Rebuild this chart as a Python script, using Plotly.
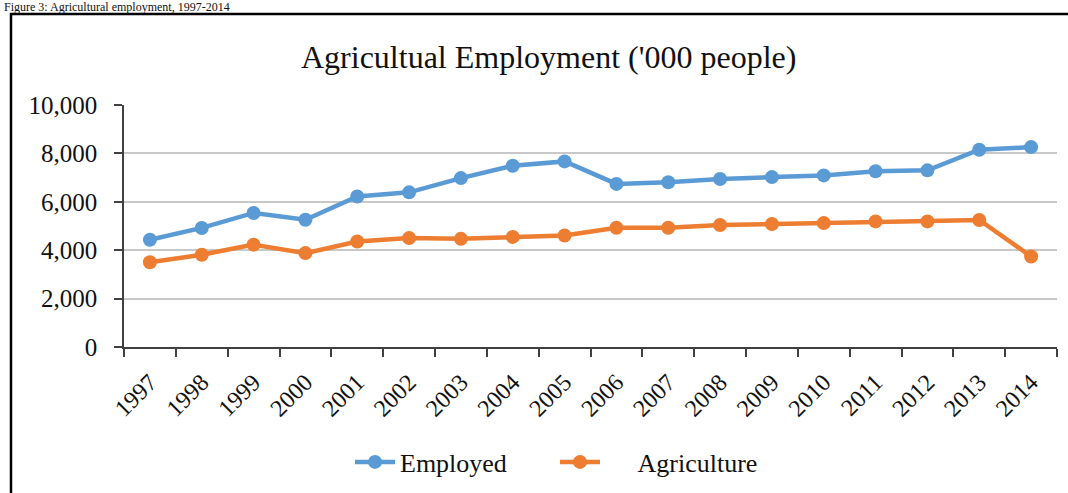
import plotly.graph_objects as go

# Annual data, thousands of people
years = [str(y) for y in range(1997, 2015)]
employed = [4430, 4920, 5540, 5260, 6220, 6390, 6980, 7490, 7670,
            6740, 6810, 6940, 7020, 7090, 7260, 7300, 8150, 8260]
agriculture = [3500, 3810, 4230, 3880, 4360, 4500, 4470, 4550, 4610,
               4930, 4930, 5040, 5080, 5120, 5190, 5190, 5250, 3740]

y_ticks = [0, 2000, 4000, 6000, 8000, 10000]
y_tick_text = ["0", "2,000", "4,000", "6,000", "8,000", "10,000"]

FONT = "Liberation Serif, Times New Roman, serif"
BLUE = "#5B9BD5"
ORANGE = "#ED7D31"

W, H = 1068, 493
L, R, T, B = 124, 11, 105, 146
pw, ph = W - L - R, H - T - B


def px(x):
    return (x - L) / pw


def py(y):
    return (H - B - y) / ph


fig = go.Figure()
fig.add_trace(go.Scatter(
    x=years, y=employed, name="Employed", mode="lines+markers",
    line=dict(color=BLUE, width=4.5), marker=dict(color=BLUE, size=14),
))
fig.add_trace(go.Scatter(
    x=years, y=agriculture, name="\u00a0\u00a0\u00a0\u00a0\u00a0Agriculture",
    mode="lines+markers",
    line=dict(color=ORANGE, width=4.5), marker=dict(color=ORANGE, size=14),
))

fig.update_layout(
    width=W, height=H,
    margin=dict(l=L, r=R, t=T, b=B, autoexpand=False),
    paper_bgcolor="white", plot_bgcolor="white",
    font=dict(family=FONT, color="#111111"),
    showlegend=True,
    legend=dict(
        orientation="h", x=px(555), xanchor="center",
        y=py(462), yanchor="middle",
        font=dict(family=FONT, size=26, color="#111111"),
        itemwidth=40, entrywidth=150, entrywidthmode="pixels",
        bgcolor="rgba(0,0,0,0)",
    ),
    annotations=[
        dict(text="Agricultual Employment ('000 people)", x=px(548), y=py(57),
             xref="paper", yref="paper", showarrow=False,
             font=dict(family=FONT, size=32, color="#111111"),
             xanchor="center", yanchor="middle"),
        dict(text="Figure 3: Agricultural employment, 1997-2014", x=px(2), y=py(7),
             xref="paper", yref="paper", showarrow=False,
             font=dict(family=FONT, size=12, color="#111111"),
             xanchor="left", yanchor="middle"),
    ],
    shapes=[
        dict(type="rect", xref="paper", yref="paper",
             x0=px(11), x1=px(1075), y0=py(500), y1=py(14),
             line=dict(color="black", width=2.5), fillcolor="rgba(0,0,0,0)",
             layer="below"),
    ],
)

fig.update_xaxes(
    type="category", range=[-0.5, 17.5],
    showline=True, linecolor="#404040", linewidth=1.5,
    ticks="outside", tickson="boundaries", ticklen=8, tickcolor="#404040",
    tickwidth=1.5, tickangle=-45, ticklabelstandoff=10,
    tickfont=dict(family=FONT, size=24, color="#111111"),
    showgrid=False,
)
fig.update_yaxes(
    range=[0, 10000], tickvals=y_ticks, ticktext=y_tick_text,
    showline=True, linecolor="#404040", linewidth=1.5,
    ticks="outside", ticklen=8, tickcolor="#404040", tickwidth=1.5,
    ticklabelstandoff=12,
    tickfont=dict(family=FONT, size=25, color="#111111"),
    showgrid=True, gridcolor="#C8C8C8", gridwidth=1.5,
    zeroline=False,
)

fig.write_html("out.html")
